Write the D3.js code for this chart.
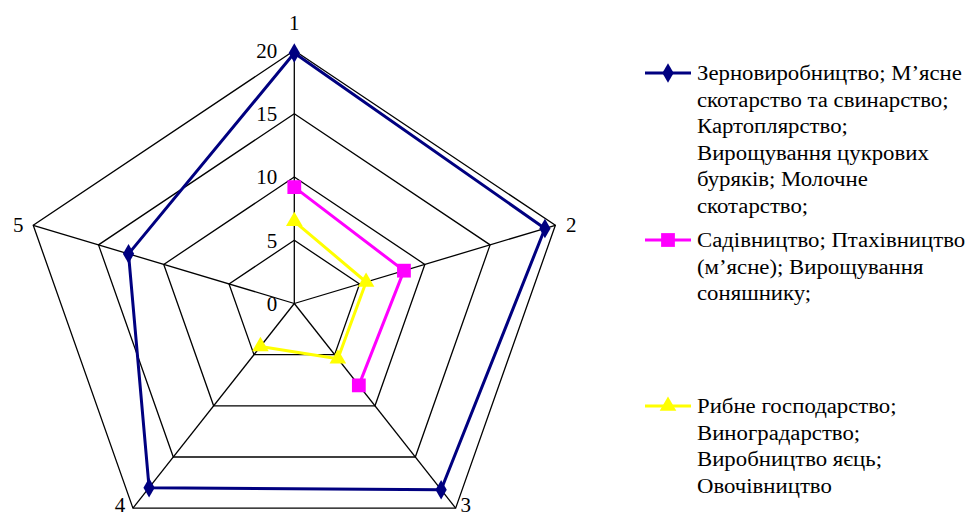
<!DOCTYPE html>
<html><head><meta charset="utf-8">
<script src="https://cdn.jsdelivr.net/npm/d3@7"></script>
<style>
html,body{margin:0;padding:0;background:#fff;}
</style></head>
<body><svg id="c" width="971" height="518"></svg>
<script>
const axes = ["1","2","3","4","5"];
const ticks = [0,5,10,15,20];
const seriesNames = [
  ["Зерновиробництво; М’ясне","скотарство та свинарство;","Картоплярство;","Вирощування цукрових","буряків; Молочне","скотарство;"],
  ["Садівництво; Птахівництво","(м’ясне); Вирощування","соняшнику;"],
  ["Рибне господарство;","Виноградарство;","Виробництво яєць;","Овочівництво"]
];
const grainValues   = [19.8, 19.2, 18.2, 18.0, 12.7];
const gardenValues  = [9.2, 8.4, 8.0, null, null];
const fishValues    = [6.5, 5.5, 5.4, 4.2, null];
const seriesColors = ["#000080","#FF00FF","#FFFF00"];
const seriesMarkers = ["diamond","square","triangle"];
const legendY = [73, 240, 406];

const FONT = "Liberation Serif";
const svg = d3.select("#c");
const cx = 294.3, cy = 303.5, Rx = 274.5, Ry = 253;
const sx = d3.scaleLinear().domain([0,20]).range([0,Rx]);
const sy = d3.scaleLinear().domain([0,20]).range([0,Ry]);
const ang = d3.scalePoint().domain(axes).range([0, 2*Math.PI*4/5]);
function pt(axis, v){
  const a = ang(axis) - Math.PI/2;
  return [cx + sx(v)*Math.cos(a), cy + sy(v)*Math.sin(a)];
}
const g = svg.append("g");
ticks.filter(t=>t>0).forEach(t=>{
  const pts = axes.map(a=>pt(a,t));
  g.append("path").attr("d", d3.line()(pts.concat([pts[0]])))
   .attr("fill","none").attr("stroke","#000").attr("stroke-width",1.3);
});
axes.forEach(a=>{
  const p = pt(a,20);
  g.append("line").attr("x1",cx).attr("y1",cy).attr("x2",p[0]).attr("y2",p[1])
   .attr("stroke","#000").attr("stroke-width",1.3);
});
ticks.forEach(t=>{
  g.append("text").attr("x",cx-17).attr("y",cy - sy(t)).attr("dy","0.35em")
   .attr("text-anchor","end").attr("font-size",21).attr("font-family",FONT).text(t);
});
const labOff = {"1":[0,-28],"2":[16,-1],"3":[10,-4],"4":[-13,-4],"5":[-15,-1]};
axes.forEach(a=>{
  const p = pt(a,20);
  g.append("text").attr("x",p[0]+labOff[a][0]).attr("y",p[1]+labOff[a][1]).attr("dy","0.35em")
   .attr("text-anchor","middle").attr("font-size",21).attr("font-family",FONT).text(a);
});
const symType = {diamond:d3.symbolDiamond, square:d3.symbolSquare, triangle:d3.symbolTriangle};
const symSize = {diamond:110, square:190, triangle:120};
function marker(sel, type, color, x, y){
  sel.append("path").attr("d", d3.symbol().type(symType[type]).size(symSize[type])())
    .attr("transform",`translate(${x},${y})`).attr("fill",color);
}
const allSeries = [grainValues, gardenValues, fishValues];
allSeries.forEach((vals,i)=>{
  const data = vals.map((v,k)=>({a:axes[k],v}));
  const closed = data.concat([data[0]]);
  const line = d3.line().defined(d=>d.v!=null).x(d=>pt(d.a,d.v)[0]).y(d=>pt(d.a,d.v)[1]);
  g.append("path").attr("d", line(closed)).attr("fill","none")
   .attr("stroke",seriesColors[i]).attr("stroke-width",3).attr("stroke-linejoin","round");
  data.filter(d=>d.v!=null).forEach(d=>{
    const p = pt(d.a,d.v);
    marker(g, seriesMarkers[i], seriesColors[i], p[0], p[1]);
  });
});
// legend
const legTexts = svg.append("g").attr("transform","translate(697,0)");
const legInner = legTexts.append("g");
seriesNames.forEach((lines,i)=>{
  const y = legendY[i];
  svg.append("line").attr("x1",645).attr("x2",691).attr("y1",y).attr("y2",y)
    .attr("stroke",seriesColors[i]).attr("stroke-width",3);
  marker(svg, seriesMarkers[i], seriesColors[i], 668, y);
  const t = legInner.append("text").attr("x",0).attr("y",y).attr("font-size",20).attr("font-family",FONT);
  lines.forEach((l,k)=>{
    t.append("tspan").attr("x",0).attr("y", y + k*26.6).attr("dy","0.35em").text(l);
  });
});
// widen legend glyphs to match the reference's wider face
const firstW = legInner.select("tspan").node().getComputedTextLength();
const k = Math.min(1.25, Math.max(1, 265 / firstW));
legInner.attr("transform", `scale(${k},1)`);
</script></body></html>
